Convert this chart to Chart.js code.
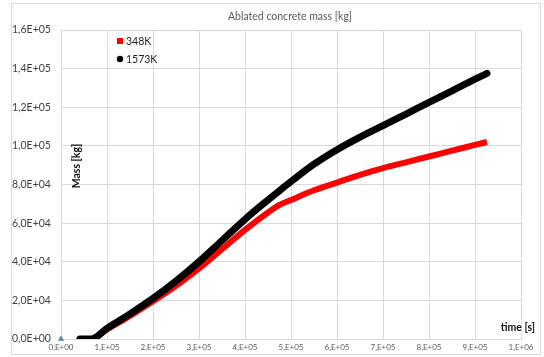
<!DOCTYPE html>
<html>
<head>
<meta charset="utf-8">
<script src="https://cdn.jsdelivr.net/npm/chart.js@4/dist/chart.umd.min.js"></script>
<style>
  html, body { margin: 0; padding: 0; background: #fff; }
  #wrap { width: 544px; height: 357px; }
</style>
</head>
<body>
<div id="wrap"><canvas id="c" width="544" height="357"></canvas></div>
<script>
// Time samples [s]
const timeS = [4.1e4, 6.5e4, 1e5, 1.5e5, 2e5, 2.5e5, 3e5, 3.5e5, 4e5, 4.5e5, 4.75e5,
               5e5, 5.5e5, 6e5, 6.5e5, 7e5, 7.5e5, 8e5, 8.5e5, 9e5, 9.26e5];
// Ablated mass [kg] for each case
const mass348K = [0, 0, 5000, 12000, 19500, 27500, 36500, 46500, 56500, 65500, 69500,
                  72000, 77000, 81000, 85000, 88500, 91500, 94500, 97500, 100500, 102000];
const mass1573K = [0, 0, 5500, 13000, 21000, 30000, 40000, 51000, 62000, 72000, 76800,
                   81500, 90500, 98000, 104500, 110500, 116500, 122500, 128500, 134500, 137500];
// Reference marker at the origin
const originT = [0];
const originM = [0];

const seriesNames = ['348K', '1573K'];
const xTickLabels = ['0,E+00','1,E+05','2,E+05','3,E+05','4,E+05','5,E+05','6,E+05','7,E+05','8,E+05','9,E+05','1,E+06'];
const yTickLabels = ['0,0E+00','2,0E+04','4,0E+04','6,0E+04','8,0E+04','1,0E+05','1,2E+05','1,4E+05','1,6E+05'];
const chartTitle = 'Ablated concrete mass [kg]';
const xTitle = 'time [s]';
const yTitle = 'Mass [kg]';

const FONT = 'Lato, "Open Sans", sans-serif';

const toXY = (xs, ys) => xs.map((x, i) => ({ x: x, y: ys[i] }));

// Frame, title, axis titles and in-plot legend
const decor = {
  id: 'decor',
  beforeDraw(chart) {
    const ctx = chart.ctx;
    ctx.save();
    ctx.fillStyle = '#fff';
    ctx.fillRect(0, 0, chart.width, chart.height);
    ctx.strokeStyle = '#d9d9d9';
    ctx.lineWidth = 1;
    ctx.strokeRect(11.5, 3.5, 529, 351);
    ctx.restore();
  },
  afterDraw(chart) {
    const ctx = chart.ctx;
    ctx.save();
    ctx.fillStyle = '#595959';
    ctx.font = '10.5px ' + FONT;
    ctx.textAlign = 'center';
    ctx.textBaseline = 'middle';
    ctx.fillText(chartTitle, 290, 17);

    ctx.fillStyle = '#111';
    ctx.font = 'bold 10.5px ' + FONT;
    ctx.textAlign = 'right';
    ctx.fillText(xTitle, 535, 328);

    ctx.save();
    ctx.translate(77, 166);
    ctx.rotate(-Math.PI / 2);
    ctx.textAlign = 'center';
    ctx.fillText(yTitle, 0, 0);
    ctx.restore();

    // legend
    ctx.font = '10.5px ' + FONT;
    ctx.textAlign = 'left';
    const ds = chart.data.datasets;
    [0, 1].forEach((i, k) => {
      const y = 41 + k * 18;
      const d = ds[i];
      ctx.fillStyle = d.borderColor;
      if (d.legendShape === 'rect') {
        ctx.fillRect(117, y - 3, 6, 6);
      } else {
        ctx.beginPath();
        ctx.arc(120, y, 3.2, 0, Math.PI * 2);
        ctx.fill();
      }
      ctx.fillStyle = '#222';
      ctx.fillText(d.label, 126, y + 0.5);
    });
    ctx.restore();
  }
};

new Chart(document.getElementById('c'), {
  type: 'scatter',
  data: {
    datasets: [
      {
        label: seriesNames[0],
        data: toXY(timeS, mass348K),
        showLine: true,
        borderColor: '#ff0000',
        backgroundColor: '#ff0000',
        borderWidth: 6,
        pointRadius: 0,
        cubicInterpolationMode: 'monotone',
        borderCapStyle: 'butt',
        legendShape: 'rect',
        order: 1
      },
      {
        label: seriesNames[1],
        data: toXY(timeS, mass1573K),
        showLine: true,
        borderColor: '#000000',
        backgroundColor: '#000000',
        borderWidth: 7,
        pointRadius: 0,
        cubicInterpolationMode: 'monotone',
        borderCapStyle: 'round',
        borderJoinStyle: 'round',
        legendShape: 'circle',
        order: 0
      },
      {
        label: 'origin',
        data: toXY(originT, originM),
        showLine: false,
        pointStyle: 'triangle',
        pointRadius: 3.5,
        borderWidth: 0,
        backgroundColor: '#4f81bd',
        borderColor: '#4f81bd',
        clip: false,
        order: -1
      }
    ]
  },
  options: {
    responsive: false,
    animation: false,
    events: [],
    layout: { padding: { left: 12, right: 23, top: 30, bottom: 0 } },
    plugins: {
      legend: { display: false },
      title: { display: false },
      tooltip: { enabled: false }
    },
    scales: {
      x: {
        type: 'linear',
        min: 0,
        max: 1e6,
        afterBuildTicks(scale) {
          scale.ticks = xTickLabels.map((_, i) => ({ value: i * 1e5 }));
        },
        afterFit(scale) { scale.height = 18; },
        ticks: {
          autoSkip: false,
          maxRotation: 0,
          padding: 4,
          color: '#595959',
          font: { family: FONT, size: 8 },
          callback: (v, i) => xTickLabels[i]
        },
        grid: { color: '#d9d9d9', drawTicks: false, lineWidth: 1 },
        border: { color: '#d9d9d9' }
      },
      y: {
        type: 'linear',
        min: 0,
        max: 1.6e5,
        afterBuildTicks(scale) {
          scale.ticks = yTickLabels.map((_, i) => ({ value: i * 2e4 }));
        },
        afterFit(scale) { scale.width = 49; },
        ticks: {
          autoSkip: false,
          crossAlign: 'far',
          padding: 8,
          color: '#404040',
          font: { family: FONT, size: 10.5 },
          callback: (v, i) => yTickLabels[i]
        },
        grid: { color: '#d9d9d9', drawTicks: false, lineWidth: 1 },
        border: { color: '#d9d9d9' }
      }
    }
  },
  plugins: [decor]
});
</script>
</body>
</html>
